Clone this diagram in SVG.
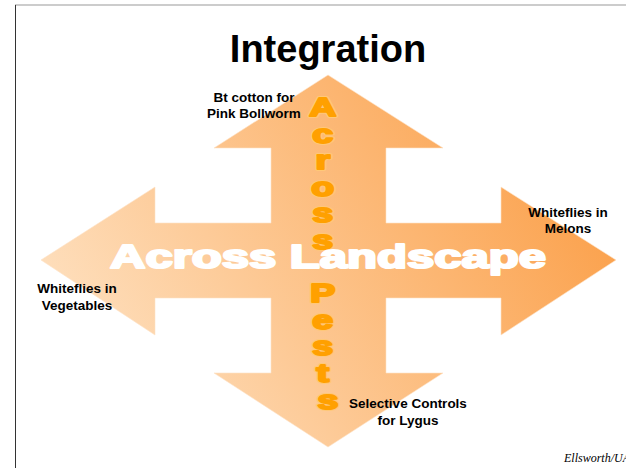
<svg xmlns="http://www.w3.org/2000/svg" width="626" height="468" viewBox="0 0 626 468">
  <defs>
    <linearGradient id="arrowGrad" gradientUnits="userSpaceOnUse" x1="100" y1="400" x2="560" y2="120">
      <stop offset="0" stop-color="#FEE0BF"/>
      <stop offset="1" stop-color="#FBA04A"/>
    </linearGradient>
    <style>
      .lbl { font-family: "Liberation Sans", Arial, sans-serif; font-weight: bold; font-size: 13.5px; fill: #000; text-anchor: middle; }
      .title { font-family: "Liberation Sans", Arial, sans-serif; font-weight: bold; font-size: 38px; fill: #000; text-anchor: middle; }
      .vert { font-family: "Liberation Sans", Arial, sans-serif; font-weight: bold; font-size: 25px; text-anchor: middle; stroke-linejoin: round; }
      .vert-halo { fill: #FFC878; stroke: #FFC878; stroke-width: 4; }
      .vert-fill { fill: #FFA000; stroke: #FFA000; stroke-width: 2; }
      .horiz { font-family: "Liberation Sans", Arial, sans-serif; font-weight: bold; font-size: 33px; fill: #FFFFFF; stroke: #FFFFFF; stroke-width: 2.2; stroke-linejoin: round; }
      .credit { font-family: "Liberation Serif", "Times New Roman", serif; font-style: italic; font-size: 12px; fill: #000; }
    </style>
  </defs>
  <rect x="0" y="0" width="626" height="468" fill="#FFFFFF"/>
  <g id="frame">
    <line x1="15" y1="5" x2="626" y2="5" stroke="#999999" stroke-width="1"/>
    <line x1="15.5" y1="5" x2="15.5" y2="468" stroke="#333333" stroke-width="1"/>
  </g>
  <g id="title">
    <text class="title" x="328" y="62">Integration</text>
  </g>
  <g id="cross-arrow">
    <polygon fill="url(#arrowGrad)" stroke="#FDE3C8" stroke-width="0.6" points="328,75 443,148 386,148 386,223 501,223 501,187 616,260 501,335 501,298 386,298 386,373 443,373 328,447 214,373 271,373 271,298 155,298 155,335 41,260 155,187 155,223 271,223 271,148 214,148"/>
  </g>
  <g id="across-pests">
    <g transform="translate(328,0) scale(1.5,1)">
      <text class="vert vert-halo">
        <tspan x="0" y="116">A</tspan>
        <tspan x="0" y="142.6">c</tspan>
        <tspan x="0" y="169.2">r</tspan>
        <tspan x="0" y="195.8">o</tspan>
        <tspan x="0" y="222.4">s</tspan>
        <tspan x="0" y="249">s</tspan>
        <tspan x="0" y="302.2">P</tspan>
        <tspan x="0" y="328.8">e</tspan>
        <tspan x="0" y="355.4">s</tspan>
        <tspan x="0" y="382">t</tspan>
        <tspan x="0" y="408.6">s</tspan>
      </text>
      <text class="vert vert-fill">
        <tspan x="0" y="116">A</tspan>
        <tspan x="0" y="142.6">c</tspan>
        <tspan x="0" y="169.2">r</tspan>
        <tspan x="0" y="195.8">o</tspan>
        <tspan x="0" y="222.4">s</tspan>
        <tspan x="0" y="249">s</tspan>
        <tspan x="0" y="302.2">P</tspan>
        <tspan x="0" y="328.8">e</tspan>
        <tspan x="0" y="355.4">s</tspan>
        <tspan x="0" y="382">t</tspan>
        <tspan x="0" y="408.6">s</tspan>
      </text>
    </g>
  </g>
  <g id="across-landscape">
    <text class="horiz" x="110" y="268" textLength="436" lengthAdjust="spacingAndGlyphs">Across Landscape</text>
  </g>
  <g id="label-bt-cotton">
    <text class="lbl" x="254" y="102">Bt cotton for</text>
    <text class="lbl" x="254" y="118">Pink Bollworm</text>
  </g>
  <g id="label-melons">
    <text class="lbl" x="568" y="217">Whiteflies in</text>
    <text class="lbl" x="568" y="233">Melons</text>
  </g>
  <g id="label-vegetables">
    <text class="lbl" x="77" y="293">Whiteflies in</text>
    <text class="lbl" x="77" y="310">Vegetables</text>
  </g>
  <g id="label-lygus">
    <text class="lbl" x="408" y="408">Selective Controls</text>
    <text class="lbl" x="408" y="425">for Lygus</text>
  </g>
  <g id="credit">
    <text class="credit" x="564" y="462">Ellsworth/UA</text>
  </g>
</svg>
